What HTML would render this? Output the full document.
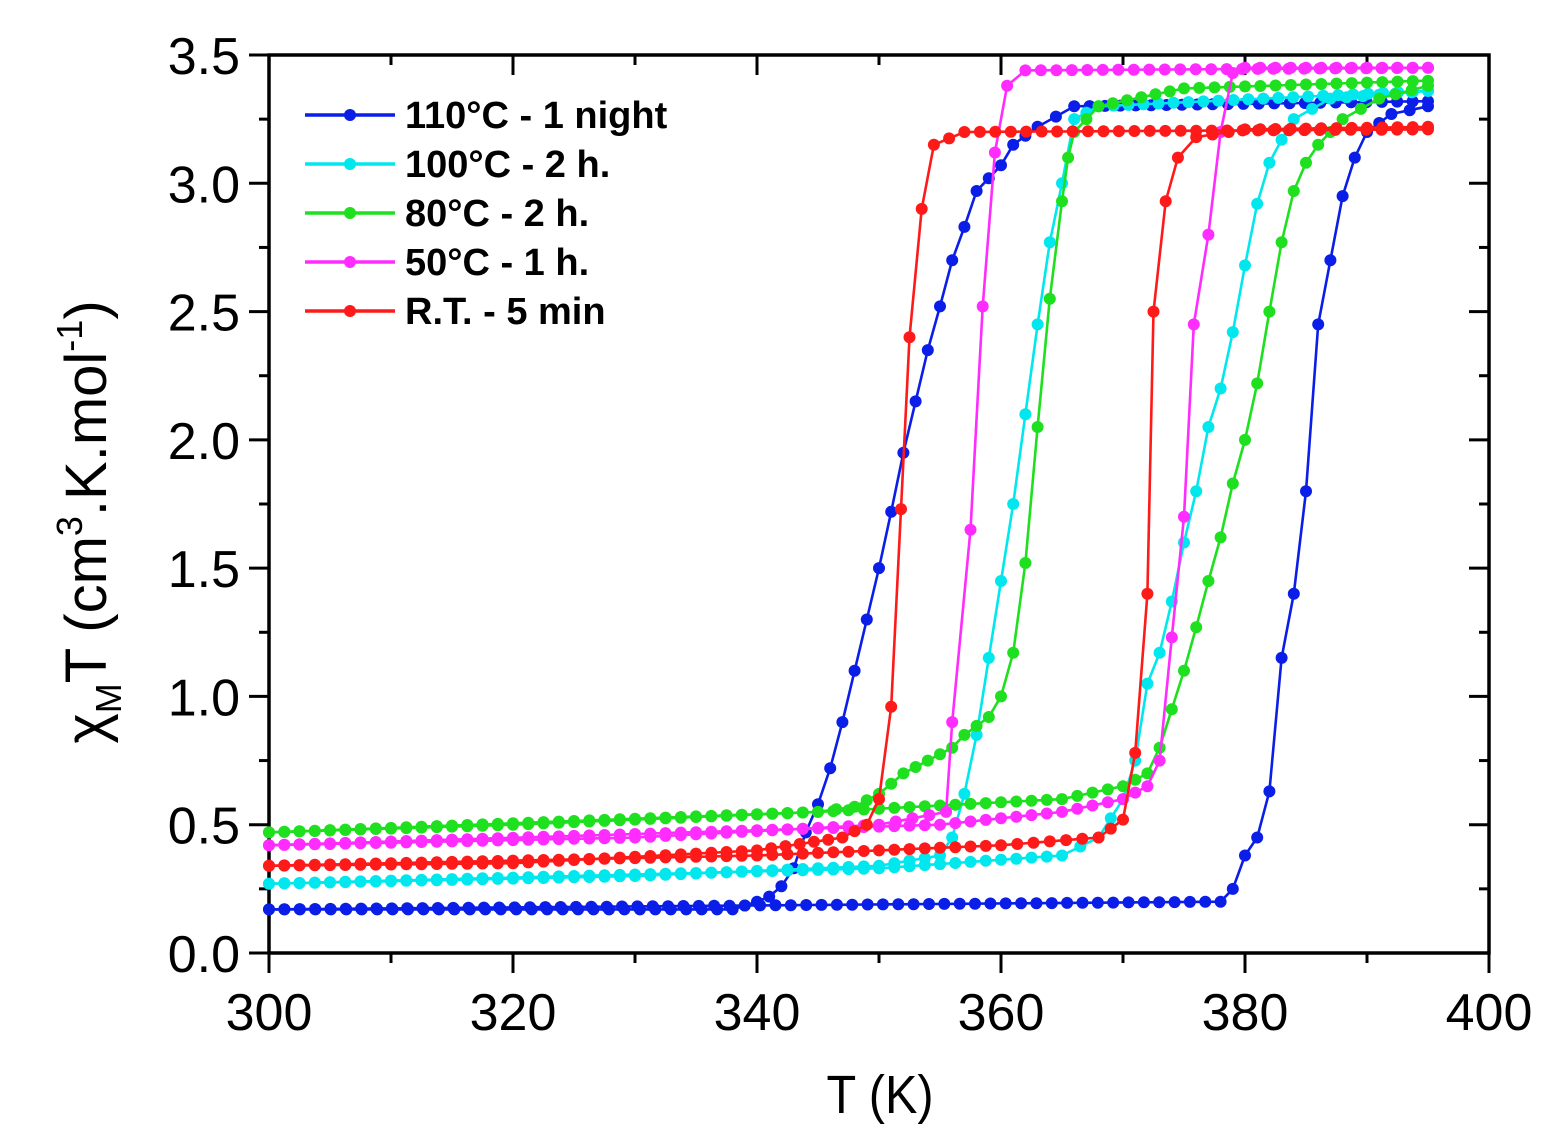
<!DOCTYPE html>
<html><head><meta charset="utf-8"><style>
html,body{margin:0;padding:0;background:#fff;}
svg{display:block;font-family:"Liberation Sans",Arial,sans-serif;}
</style></head><body>
<svg id="s" width="1567" height="1148" xmlns="http://www.w3.org/2000/svg">
<rect x="269" y="55" width="1220" height="898" fill="none" stroke="#000" stroke-width="3.5"/>
<g id="ticks" stroke="#000" stroke-width="3"></g>
<g id="labels" fill="#000"></g>
<g id="data"></g>
<text x="880" y="1113" font-size="54" text-anchor="middle" transform="translate(880,0) scale(0.9,1) translate(-880,0)">T (K)</text>
<text transform="translate(106,522) rotate(-90)" font-size="58" text-anchor="middle">χ<tspan font-size="36" dy="15">M</tspan><tspan dy="-15">T (cm</tspan><tspan font-size="36" dy="-24">3</tspan><tspan dy="24">.K.mol</tspan><tspan font-size="36" dy="-24">-1</tspan><tspan dy="24">)</tspan></text>
<g id="legend" font-size="38" font-weight="bold"></g>
</svg>
<script>
const NS="http://www.w3.org/2000/svg";
const X=t=>269+(t-300)*12.2, Y=v=>953-v*256.57;
function el(p,n,a,txt){const e=document.createElementNS(NS,n);for(const k in a)e.setAttribute(k,a[k]);if(txt!==undefined)e.textContent=txt;document.getElementById(p).appendChild(e);return e;}
for(let t=300;t<=400;t+=10){const maj=(t%20==0);el("ticks","line",{x1:X(t),x2:X(t),y1:953,y2:953+(maj?20:10)});
 el("ticks","line",{x1:X(t),x2:X(t),y1:55,y2:55+(maj?20:10)});
 if(maj)el("labels","text",{x:X(t),y:1030,"text-anchor":"middle","font-size":52},t);}
for(let i=0;i<=14;i++){const v=i*0.25,maj=i%2==0;el("ticks","line",{x1:269-(maj?20:10),x2:269,y1:Y(v),y2:Y(v)});
 el("ticks","line",{x1:1489-(maj?20:10),x2:1489,y1:Y(v),y2:Y(v)});
 if(maj)el("labels","text",{x:240,y:Y(v)+19,"text-anchor":"end","font-size":52},v.toFixed(1));}
function pts(k){const out=[];for(let i=0;i<k.length-1;i++){const[a,va]=k[i],[b,vb]=k[i+1];const n=Math.max(1,Math.round(Math.abs(b-a)/1.25));for(let j=0;j<n;j++){const f=j/n;out.push([a+(b-a)*f,va+(vb-va)*f]);}}out.push(k[k.length-1]);return out;}
const S=[
["#0a1ee8",[[300,.17],[378,.2],[379,.25],[380,.38],[381,.45],[382,.63],[383,1.15],[384,1.4],[385,1.8],[386,2.45],[387,2.7],[388,2.95],[389,3.1],[390,3.2],[392,3.27],[395,3.3]],
 [[395,3.32],[366,3.3],[363,3.22],[361,3.15],[360,3.07],[358,2.97],[357,2.83],[356,2.7],[355,2.52],[354,2.35],[353,2.15],[352,1.95],[351,1.72],[350,1.5],[349,1.3],[348,1.1],[347,.9],[346,.72],[345,.58],[344,.47],[343,.33],[342,.26],[341,.22],[340,.2],[338,.17],[300,.17]]],
["#00e8ee",[[300,.27],[350,.33],[365,.38],[368,.45],[370,.6],[371,.75],[372,1.05],[373,1.17],[374,1.37],[375,1.6],[376,1.8],[377,2.05],[378,2.2],[379,2.42],[380,2.68],[381,2.92],[382,3.08],[383,3.17],[384,3.25],[387,3.33],[395,3.36]],
 [[395,3.36],[368,3.3],[366,3.25],[365,3.0],[364,2.77],[363,2.45],[362,2.1],[361,1.75],[360,1.45],[359,1.15],[358,.85],[357,.62],[356,.45],[355,.38],[350,.34],[330,.3],[300,.27]]],
["#1ee01e",[[300,.47],[345,.55],[365,.6],[370,.65],[372,.7],[373,.8],[374,.95],[375,1.1],[376,1.27],[377,1.45],[378,1.62],[379,1.83],[380,2.0],[381,2.22],[382,2.5],[383,2.77],[384,2.97],[385,3.08],[386,3.15],[388,3.25],[391,3.33],[395,3.38]],
 [[395,3.4],[375,3.37],[368,3.3],[366,3.2],[365.5,3.1],[365,2.93],[364,2.55],[363,2.05],[362,1.52],[361,1.17],[360,1.0],[359,.92],[357,.85],[356,.8],[354,.75],[352,.7],[350,.62],[348,.57],[345,.55],[320,.5],[300,.47]]],
["#ff2cff",[[300,.42],[355,.5],[365,.55],[370,.6],[372,.65],[373,.75],[374,1.23],[375,1.7],[375.8,2.45],[377,2.8],[378,3.2],[379,3.43],[380,3.45],[395,3.45]],
 [[395,3.45],[362,3.44],[360.5,3.38],[359.5,3.12],[358.5,2.52],[357.5,1.65],[356,.9],[355.5,.55],[350,.5],[330,.45],[300,.42]]],
["#ff1a1a",[[300,.34],[340,.38],[360,.42],[368,.45],[370,.52],[371,.78],[372,1.4],[372.5,2.5],[373.5,2.93],[374.5,3.1],[376,3.18],[380,3.21],[395,3.22]],
 [[395,3.21],[357,3.2],[354.5,3.15],[353.5,2.9],[352.5,2.4],[351.8,1.73],[351,.96],[350,.6],[349,.5],[347,.45],[340,.4],[320,.35],[300,.34]]]
];
S.forEach(([c,h,k])=>{[h,k].forEach(kn=>{const p=pts(kn);el("data","polyline",{points:p.map(q=>X(q[0]).toFixed(1)+","+Y(q[1]).toFixed(1)).join(" "),fill:"none",stroke:c,"stroke-width":2.6});
 p.forEach(q=>el("data","circle",{cx:X(q[0]).toFixed(1),cy:Y(q[1]).toFixed(1),r:6,fill:c}));});});
const L=[["#0a1ee8","110°C - 1 night"],["#00e8ee","100°C - 2 h."],["#1ee01e","80°C - 2 h."],["#ff2cff","50°C - 1 h."],["#ff1a1a","R.T. - 5 min"]];
L.forEach(([c,t],i)=>{const y=115+i*49;el("legend","line",{x1:305,x2:395,y1:y,y2:y,stroke:c,"stroke-width":3.5});el("legend","circle",{cx:350,cy:y,r:6,fill:c});el("legend","text",{x:405,y:y+13},t);});
</script>
</body></html>
